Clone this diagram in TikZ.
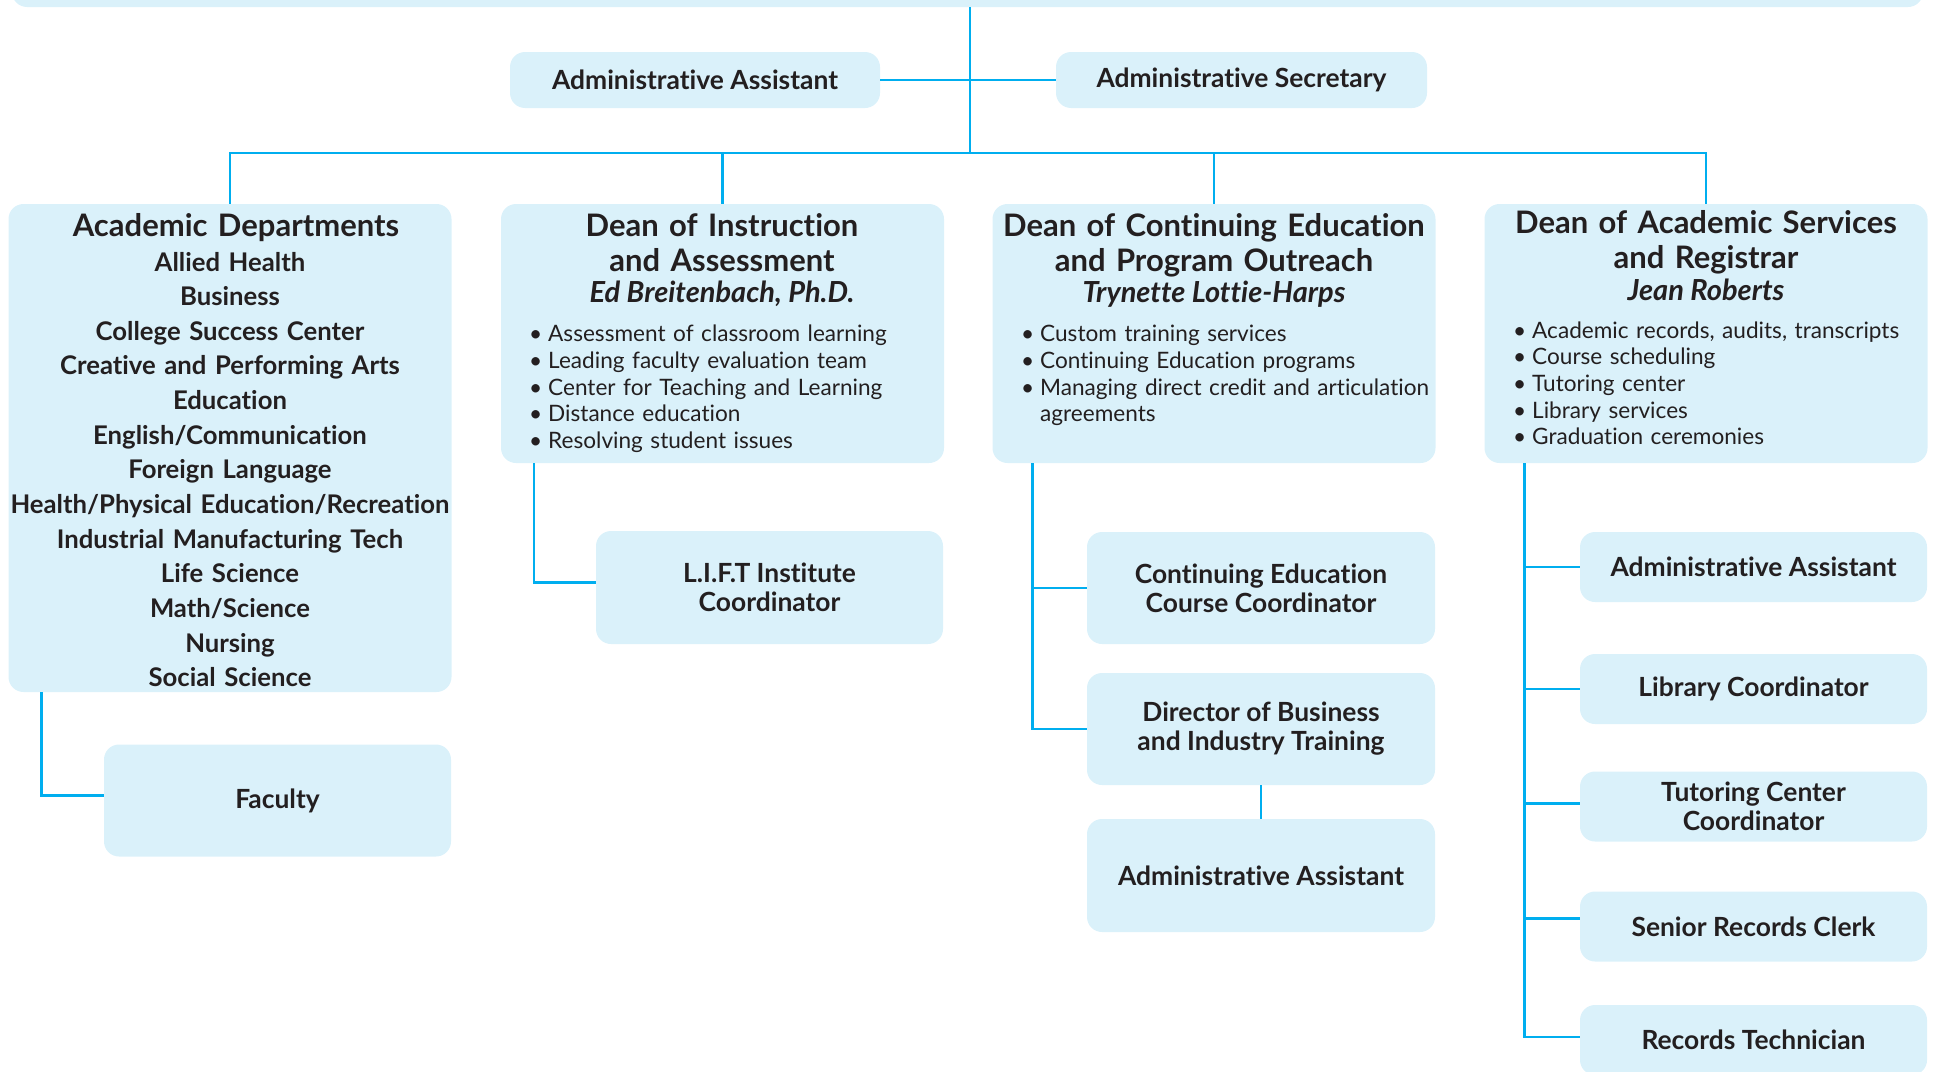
\documentclass[tikz,border=0pt]{standalone}
\usepackage{fontspec}
\setmainfont{Lato}[Ligatures=NoCommon]
\usepackage{tikz}
\usetikzlibrary{positioning}

\definecolor{boxblue}{RGB}{218,241,250}
\definecolor{linkblue}{RGB}{0,174,239}
\definecolor{ink}{RGB}{35,31,32}

\newcommand{\itm}{\makebox[19pt][l]{\textbullet}}

\tikzset{
  box/.style={rectangle, rounded corners=15pt, fill=boxblue, inner sep=0pt},
  link/.style={draw=linkblue, line width=2.6pt},
  head/.style={text=ink, inner sep=0pt, font=\fontsize{31}{35}\selectfont\bfseries, align=center, text width=440pt, anchor=base},
  who/.style={text=ink, inner sep=0pt, font=\fontsize{29}{30}\selectfont\bfseries\itshape, anchor=base},
  dept/.style={text=ink, inner sep=0pt, font=\fontsize{25.7}{34.64}\selectfont\bfseries, align=center, text width=440pt, anchor=base},
  duties/.style={text=ink, inner sep=0pt, font=\fontsize{22.6}{26.67}\selectfont, align=left, text width=420pt, anchor=base west},
  role/.style={box, text=ink, font=\fontsize{26.4}{29}\selectfont\bfseries, align=center},
}

\begin{document}
\begin{tikzpicture}[x=1pt, y=-1pt]
    \useasboundingbox (0,0) rectangle (1937,1071);

    % top of the chart and the two assistants
    \node[box, minimum width=1911pt, minimum height=60pt] (top) at (967.5,-23) {};
    \node[role, minimum width=370pt, minimum height=56pt] (asst) at (695,80) {Administrative Assistant};
    \node[role, minimum width=371pt, minimum height=56pt] (secr) at (1241.5,80) {Administrative Secretary};
    \coordinate (bus) at (970,153);

    % first row
    \node[box, minimum width=443pt, minimum height=488pt] (acad) at (230,448) {};
    \node[box, minimum width=443pt, minimum height=259pt] (dinst) at (722.5,333.5) {};
    \node[box, minimum width=443pt, minimum height=259pt] (dcont) at (1214,333.5) {};
    \node[box, minimum width=443pt, minimum height=259pt] (dacs) at (1706,333.5) {};

    % Academic Departments
    \node[head] (acadT) at (236,236) {Academic Departments};
    \node[dept] (acadL) at (230,271) {Allied Health\\Business\\College Success Center\\Creative and Performing Arts\\Education\\English/Communication\\Foreign Language\\Health/Physical Education/Recreation\\Industrial Manufacturing Tech\\Life Science\\Math/Science\\Nursing\\Social Science};

    % Dean of Instruction
    \node[head] (dinstT) at (722,236) {Dean of Instruction\\and Assessment};
    \node[who] (dinstN) at (722,302.7) {Ed Breitenbach, Ph.D.};
    \node[duties] (dinstD) at (529,341.7) {\itm Assessment of classroom learning\\\itm Leading faculty evaluation team\\\itm Center for Teaching and Learning\\\itm Distance education\\\itm Resolving student issues};

    % Dean of Continuing Education
    \node[head] (dcontT) at (1214,236) {Dean of Continuing Education\\and Program Outreach};
    \node[who] (dcontN) at (1214,302) {Trynette Lottie-Harps};
    \node[duties] (dcontD) at (1021,341.7) {\itm Custom training services\\\itm Continuing Education programs\\\itm Managing direct credit and articulation\\\makebox[19pt]{}agreements};

    % Dean of Academic Services
    \node[head] (dacsT) at (1706,233) {Dean of Academic Services\\and Registrar};
    \node[who] (dacsN) at (1706,300) {Jean Roberts};
    \node[duties] (dacsD) at (1513,338.3) {\itm Academic records, audits, transcripts\\\itm Course scheduling\\\itm Tutoring center\\\itm Library services\\\itm Graduation ceremonies};

    % second level
    \node[role, minimum width=347pt, minimum height=112pt] (fac) at (277.5,800.5) {Faculty};
    \node[role, minimum width=347pt, minimum height=113pt] (lift) at (769.5,587.5) {L.I.F.T Institute\\Coordinator};
    \node[role, minimum width=348pt, minimum height=112pt] (cecc) at (1261,588) {Continuing Education\\Course Coordinator};
    \node[role, minimum width=348pt, minimum height=112pt] (dbit) at (1261,729) {Director of Business\\and Industry Training};
    \node[role, minimum width=348pt, minimum height=113pt] (cadm) at (1261,875.5) {Administrative Assistant};
    \node[role, minimum width=347pt, minimum height=70pt] (sadm) at (1753.5,567) {Administrative Assistant};
    \node[role, minimum width=347pt, minimum height=70pt] (slib) at (1753.5,689) {Library Coordinator};
    \node[role, minimum width=347pt, minimum height=70pt] (stut) at (1753.5,806.5) {Tutoring Center\\Coordinator};
    \node[role, minimum width=347pt, minimum height=70pt] (srec) at (1753.5,926.5) {Senior Records Clerk};
    \node[role, minimum width=347pt, minimum height=70pt] (stech) at (1753.5,1040) {Records Technician};

    % connectors
    \draw[link] (top.south -| bus) -- (bus);
    \draw[link] (asst.east) -- (secr.west);
    \draw[link] (acad.north) |- (bus) -| (dacs.north);
    \draw[link] (dinst.north) -- (dinst.north |- bus);
    \draw[link] (dcont.north) -- (dcont.north |- bus);

    \draw[link] ([xshift=33pt]acad.south west) |- ([yshift=5pt]fac.west);
    \draw[link] ([xshift=33pt]dinst.south west) |- ([yshift=5pt]lift.west);

    \coordinate (ctrunk) at ([xshift=40pt]dcont.south west);
    \draw[link] (ctrunk) |- (dbit.west);
    \draw[link] (ctrunk |- cecc.west) -- (cecc.west);
    \draw[link] (dbit.south) -- (cadm.north);

    \coordinate (strunk) at ([xshift=40pt]dacs.south west);
    \draw[link] (strunk) |- ([yshift=3pt]stech.west);
    \draw[link] (strunk |- sadm.west) -- (sadm.west);
    \draw[link] (strunk |- slib.west) -- (slib.west);
    \draw[link] ([yshift=3pt]strunk |- stut.west) -- ([yshift=3pt]stut.west);
    \draw[link] ([yshift=8pt]strunk |- srec.west) -- ([yshift=8pt]srec.west);
\end{tikzpicture}
\end{document}
